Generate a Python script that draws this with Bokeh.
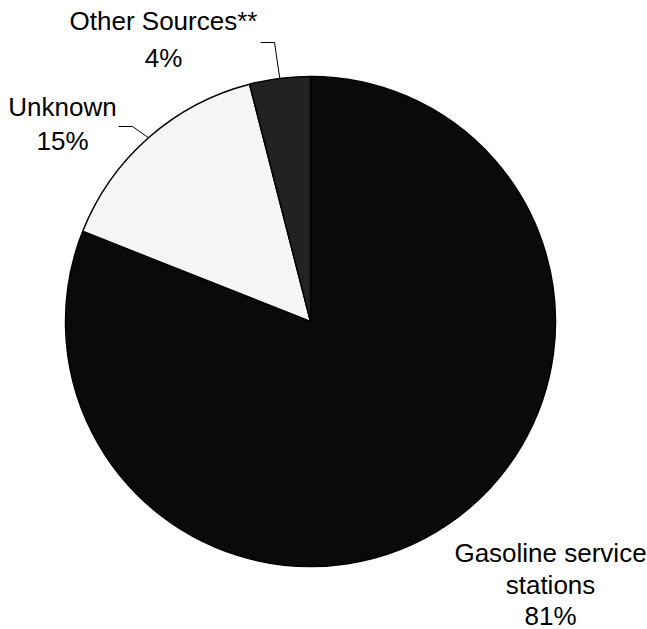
import math
from bokeh.plotting import figure
from bokeh.models import Range1d, ColumnDataSource
from bokeh.core.properties import value
from bokeh.embed import file_html
from bokeh.resources import INLINE

# ---- data ----
categories = ["Gasoline service stations", "Unknown", "Other Sources**"]
shares = [81, 15, 4]
label_lines = [["Gasoline service", "stations", "81%"],
               ["Unknown", "15%"],
               ["Other Sources**", "4%"]]
colors = ["#0a0a0a", "#f5f5f5", "#222222"]

# ---- layout (page pixels, y downward -> data y = -page_y) ----
W, H = 647, 629
CX, CY, R = 310, -321, 245
FONT = "Liberation Sans"
FS = "26px"
label_centers = [(550, [552, 584, 615]),
                 (62, [106, 140]),
                 (163, [20, 57])]
leader = {1: (118, 126, 132), 2: (260, 42, 274)}  # x0, y, x1 of horizontal segment

p = figure(width=W, height=H, output_backend="svg", toolbar_location=None,
           x_range=Range1d(0, W), y_range=Range1d(-H, 0),
           x_axis_location=None, y_axis_location=None, min_border=0)
p.grid.visible = False
p.outline_line_color = None
p.background_fill_color = "white"
p.border_fill_color = "white"

total = sum(shares)
starts, ends, mids = [], [], []
cum = 0.0
for s in shares:
    a0 = math.pi / 2 - 2 * math.pi * (cum + s) / total
    a1 = math.pi / 2 - 2 * math.pi * cum / total
    starts.append(a0)
    ends.append(a1)
    mids.append((a0 + a1) / 2)
    cum += s

src = ColumnDataSource(dict(start=starts, end=ends, color=colors, cat=categories))
p.wedge(x=CX, y=CY, radius=R, start_angle="start", end_angle="end",
        fill_color="color", line_color="black", line_width=1.5,
        direction="anticlock", source=src)

# leader lines
for i, (x0, y, x1) in leader.items():
    ex = CX + R * math.cos(mids[i])
    ey = CY + R * math.sin(mids[i])
    p.line([x0, x1, ex], [-y, -y, ey], line_color="black", line_width=1)

# labels
for i, lines in enumerate(label_lines):
    cx, ys = label_centers[i]
    p.text(x=[cx] * len(lines), y=[-yy for yy in ys], text=lines,
           text_font=value(FONT), text_font_size=FS, text_color="black",
           text_align="center", text_baseline="middle")

open("out.html", "w").write(file_html(p, INLINE))
